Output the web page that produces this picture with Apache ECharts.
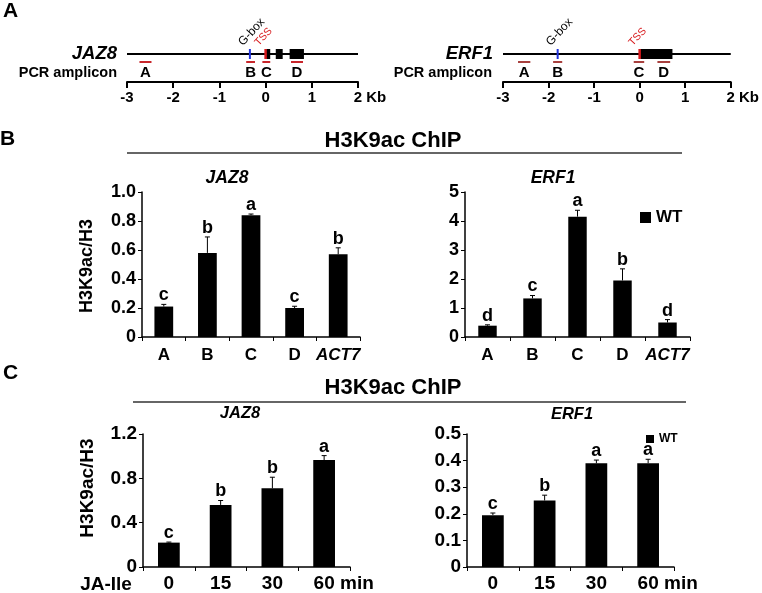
<!DOCTYPE html>
<html><head><meta charset="utf-8">
<script src="https://cdn.jsdelivr.net/npm/echarts@6/dist/echarts.min.js"></script>
<style>html,body{margin:0;padding:0;background:#fff}#c{width:762px;height:593px}</style>
</head><body><div id="c"></div>
<script>
// ---- Panel A: gene structures (kb relative to TSS) ----
const geneSpan = [-3, 2];
const ampliconLabels = ['A', 'B', 'C', 'D'];
const jaz8Amplicons = [[-2.73, -2.47], [-0.42, -0.23], [-0.07, 0.1], [0.55, 0.81]];
const jaz8Exons = [[0, 0.1], [0.22, 0.37], [0.52, 0.83]];
const jaz8Marks = [[-0.34, 'G-box'], [0, 'TSS']];
const erf1Amplicons = [[-2.67, -2.4], [-1.9, -1.7], [-0.13, 0.1], [0.39, 0.67]];
const erf1Exons = [[0, 0.72]];
const erf1Marks = [[-1.8, 'G-box'], [0, 'TSS']];

// ---- Panel B: H3K9ac ChIP per region ----
const regionCats = ['A', 'B', 'C', 'D', 'ACT7'];
const bJaz8 = [0.21, 0.58, 0.84, 0.20, 0.57];
const bJaz8Err = [0.015, 0.11, 0.008, 0.012, 0.045];
const bJaz8Letters = ['c', 'b', 'a', 'c', 'b'];
const bErf1 = [0.39, 1.33, 4.15, 1.95, 0.5];
const bErf1Err = [0.03, 0.1, 0.22, 0.4, 0.1];
const bErf1Letters = ['d', 'c', 'a', 'b', 'd'];

// ---- Panel C: JA-Ile time course ----
const timeCats = ['0', '15', '30', '60'];
const cJaz8 = [0.22, 0.56, 0.71, 0.965];
const cJaz8Err = [0.005, 0.04, 0.1, 0.04];
const cJaz8Letters = ['c', 'b', 'b', 'a'];
const cErf1 = [0.195, 0.25, 0.39, 0.39];
const cErf1Err = [0.008, 0.02, 0.012, 0.015];
const cErf1Letters = ['c', 'b', 'a', 'a'];

const FONT = '"Liberation Sans", Arial, sans-serif';
const GENE_Y = 7, AMP_Y = 5;

function geneSeries(xi, exons, marks, amps, ampColor) {
  const base = {type: 'custom', xAxisIndex: xi, yAxisIndex: xi, clip: false, silent: true, encode: {x: [0, 1]}};
  return [
    Object.assign({}, base, {
      data: [geneSpan], z: 2,
      renderItem: (p, api) => {
        const a = api.coord([api.value(0), GENE_Y]), b = api.coord([api.value(1), GENE_Y]);
        return {type: 'line', shape: {x1: a[0], y1: a[1], x2: b[0], y2: b[1]}, style: {stroke: '#000', lineWidth: 2}};
      }
    }),
    Object.assign({}, base, {
      data: exons, z: 3,
      renderItem: (p, api) => {
        const a = api.coord([api.value(0), GENE_Y]), b = api.coord([api.value(1), GENE_Y]);
        return {type: 'rect', shape: {x: a[0], y: a[1] - 5, width: b[0] - a[0], height: 10}, style: {fill: '#000'}};
      }
    }),
    Object.assign({}, base, {
      data: amps, z: 3,
      renderItem: (p, api) => {
        const a = api.coord([api.value(0), AMP_Y]), b = api.coord([api.value(1), AMP_Y]);
        return {type: 'group', children: [
          {type: 'line', shape: {x1: a[0], y1: a[1], x2: b[0], y2: b[1]}, style: {stroke: ampColor, lineWidth: 2}},
          {type: 'text', x: (a[0] + b[0]) / 2, y: a[1] + 11, style: {text: ampliconLabels[p.dataIndex], fill: '#000', font: 'bold 15px ' + FONT, align: 'center', verticalAlign: 'middle'}}
        ]};
      }
    }),
    Object.assign({}, base, {
      data: marks.map(m => [m[0], m[0]]), z: 4,
      renderItem: (p, api) => {
        const name = marks[p.dataIndex][1];
        const c = api.coord([api.value(0), GENE_Y]);
        const isTss = name === 'TSS';
        const col = isTss ? '#d7191c' : '#2233dd';
        return {type: 'group', children: [
          {type: 'line', shape: {x1: c[0], y1: c[1] - 5, x2: c[0], y2: c[1] + 5}, style: {stroke: col, lineWidth: isTss ? 2.5 : 2}},
          {type: 'text', x: c[0] - 5, y: c[1] - 6, rotation: 47 * Math.PI / 180,
           style: {text: name, fill: isTss ? '#d7191c' : '#000', font: (isTss ? '10.5px ' : '12px ') + FONT, align: 'left', verticalAlign: 'bottom'}}
        ]};
      }
    })
  ];
}

function errSeries(xi, vals, errs, letters, fs) {
  return {
    type: 'custom', xAxisIndex: xi, yAxisIndex: xi, z: 5, clip: false, silent: true,
    data: vals.map((v, i) => [i, v, errs[i]]),
    encode: {x: 0, y: 1},
    renderItem: (p, api) => {
      const i = api.value(0), v = api.value(1), e = api.value(2);
      const b = api.coord([i, v]), t = api.coord([i, v + e]);
      return {type: 'group', children: [
        {type: 'line', shape: {x1: b[0], y1: b[1], x2: t[0], y2: t[1]}, style: {stroke: '#000', lineWidth: 1}},
        {type: 'line', shape: {x1: t[0] - 2.5, y1: t[1], x2: t[0] + 2.5, y2: t[1]}, style: {stroke: '#000', lineWidth: 1}},
        {type: 'text', x: t[0], y: t[1], style: {text: letters[p.dataIndex], fill: '#000', font: 'bold ' + fs + 'px ' + FONT, align: 'center', verticalAlign: 'bottom'}}
      ]};
    }
  };
}

const axisLineStyle = {show: true, lineStyle: {color: '#000', width: 1.5}};
function catAxis(gi, cats, fs, margin) {
  return {
    type: 'category', gridIndex: gi, data: cats,
    axisLine: axisLineStyle,
    axisTick: {show: true, length: 4, lineStyle: {color: '#000', width: 1}},
    axisLabel: {
      interval: 0, hideOverlap: false,
      color: '#000', fontSize: fs, fontWeight: 'bold', margin: margin, fontFamily: FONT,
      formatter: v => v === 'ACT7' ? '{i|ACT7}' : (v === '60' ? '{m|60 min}' : v),
      rich: {
        i: {fontStyle: 'italic', fontWeight: 'bold', fontSize: fs, fontFamily: FONT, color: '#000'},
        m: {fontWeight: 'bold', fontSize: fs, fontFamily: FONT, color: '#000', padding: [0, 0, 0, fs * 2.06]}
      }
    }
  };
}
function valAxis(gi, max, interval, fs, dec) {
  return {
    type: 'value', gridIndex: gi, min: 0, max: max, interval: interval,
    splitLine: {show: false},
    axisLine: axisLineStyle,
    axisTick: {show: true, length: 4, lineStyle: {color: '#000', width: 1}},
    axisLabel: {color: '#000', fontSize: fs, fontWeight: 'bold', margin: 6, fontFamily: FONT,
      formatter: v => v === 0 ? '0' : (dec ? v.toFixed(1) : String(v))}
  };
}
function kbAxis(gi) {
  return {
    type: 'value', gridIndex: gi, min: -3, max: 2, interval: 1,
    splitLine: {show: false},
    axisLine: {show: true, lineStyle: {color: '#000', width: 2}},
    axisTick: {show: true, length: 6, lineStyle: {color: '#000', width: 2}},
    axisLabel: {color: '#000', fontSize: 15, fontWeight: 'bold', margin: 8, fontFamily: FONT,
      formatter: v => v === 2 ? '{k|2 Kb}' : String(v),
      rich: {k: {fontSize: 15, fontWeight: 'bold', fontFamily: FONT, color: '#000', padding: [0, 0, 0, 24]}}}
  };
}
function hiddenY(gi) { return {type: 'value', gridIndex: gi, min: 0, max: 10, show: false}; }

function txt(x, y, s, font, opt) {
  return Object.assign({type: 'text', x: x, y: y, silent: true,
    style: Object.assign({text: s, font: font, fill: '#000', align: 'center', verticalAlign: 'middle'}, opt || {})});
}

const chart = echarts.init(document.getElementById('c'));
chart.setOption({
  animation: false,
  backgroundColor: '#fff',
  textStyle: {fontFamily: FONT},
  grid: [
    {left: 127, top: 42, width: 231, height: 40},
    {left: 503, top: 42, width: 230, height: 40},
    {left: 142, top: 192, width: 218, height: 145},
    {left: 465, top: 192, width: 225, height: 145},
    {left: 143, top: 434, width: 207, height: 135},
    {left: 467, top: 434, width: 207, height: 135}
  ],
  xAxis: [kbAxis(0), kbAxis(1), catAxis(2, regionCats, 17, 10), catAxis(3, regionCats, 17, 10),
          catAxis(4, timeCats, 19, 7), catAxis(5, timeCats, 19, 7)],
  yAxis: [hiddenY(0), hiddenY(1), valAxis(2, 1, 0.2, 18, true), valAxis(3, 5, 1, 18, false),
          valAxis(4, 1.2, 0.4, 19, true), valAxis(5, 0.5, 0.1, 19, true)],
  legend: [
    {data: ['WT'], left: 635, top: 204, icon: 'rect', itemWidth: 11, itemHeight: 11, itemGap: 5, selectedMode: false,
     textStyle: {fontSize: 17, fontWeight: 'bold', color: '#000', fontFamily: FONT}},
    {data: ['WT'], left: 641, top: 428, icon: 'rect', itemWidth: 8, itemHeight: 8, selectedMode: false,
     textStyle: {fontSize: 12, fontWeight: 'bold', color: '#000', fontFamily: FONT}}
  ],
  series: [].concat(
    geneSeries(0, jaz8Exons, jaz8Marks, jaz8Amplicons, '#c8262b'),
    geneSeries(1, erf1Exons, erf1Marks, erf1Amplicons, '#a8403e'),
    [
      {name: 'WT', type: 'bar', xAxisIndex: 2, yAxisIndex: 2, data: bJaz8, barWidth: '43%', itemStyle: {color: '#000'}, silent: true},
      {name: 'WT', type: 'bar', xAxisIndex: 3, yAxisIndex: 3, data: bErf1, barWidth: '41%', itemStyle: {color: '#000'}, silent: true},
      {name: 'WT', type: 'bar', xAxisIndex: 4, yAxisIndex: 4, data: cJaz8, barWidth: '42%', itemStyle: {color: '#000'}, silent: true},
      {name: 'WT', type: 'bar', xAxisIndex: 5, yAxisIndex: 5, data: cErf1, barWidth: '42%', itemStyle: {color: '#000'}, silent: true},
      errSeries(2, bJaz8, bJaz8Err, bJaz8Letters, 18),
      errSeries(3, bErf1, bErf1Err, bErf1Letters, 18),
      errSeries(4, cJaz8, cJaz8Err, cJaz8Letters, 18),
      errSeries(5, cErf1, cErf1Err, cErf1Letters, 18)
    ]
  ),
  graphic: [
    txt(3, 11, 'A', 'bold 21px ' + FONT, {align: 'left'}),
    txt(0, 139, 'B', 'bold 21px ' + FONT, {align: 'left'}),
    txt(3, 373, 'C', 'bold 21px ' + FONT, {align: 'left'}),
    txt(117, 54, 'JAZ8', 'italic bold 18.5px ' + FONT, {align: 'right'}),
    txt(117, 73, 'PCR amplicon', 'bold 14.5px ' + FONT, {align: 'right'}),
    txt(493, 54, 'ERF1', 'italic bold 18.5px ' + FONT, {align: 'right'}),
    txt(492, 73, 'PCR amplicon', 'bold 14.5px ' + FONT, {align: 'right'}),
    txt(393, 141, 'H3K9ac ChIP', 'bold 22px ' + FONT),
    {type: 'line', silent: true, shape: {x1: 127, y1: 153, x2: 682, y2: 153}, style: {stroke: '#333', lineWidth: 1.5}},
    txt(393, 388, 'H3K9ac ChIP', 'bold 22px ' + FONT),
    {type: 'line', silent: true, shape: {x1: 133, y1: 402, x2: 686, y2: 402}, style: {stroke: '#333', lineWidth: 1.5}},
    txt(227, 178, 'JAZ8', 'italic bold 17.5px ' + FONT),
    txt(553, 178, 'ERF1', 'italic bold 17.5px ' + FONT),
    txt(240, 413, 'JAZ8', 'italic bold 16.5px ' + FONT),
    txt(572, 414, 'ERF1', 'italic bold 16.5px ' + FONT),
    Object.assign(txt(87, 266, 'H3K9ac/H3', 'bold 18px ' + FONT), {rotation: Math.PI / 2}),
    Object.assign(txt(88, 488, 'H3K9ac/H3', 'bold 19px ' + FONT), {rotation: Math.PI / 2}),
    txt(106, 585, 'JA-Ile', 'bold 19px ' + FONT)
  ]
});
</script>
</body></html>
